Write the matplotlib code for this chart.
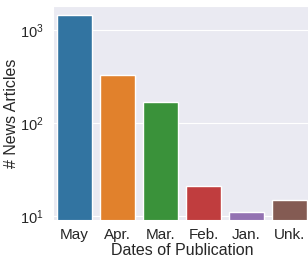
import matplotlib
matplotlib.use("Agg")
import matplotlib.pyplot as plt
import seaborn as sns

categories = ["May", "Apr.", "Mar.", "Feb.", "Jan.", "Unk."]
counts = [1450, 328, 169, 21, 11, 15]
colors = ["#3274A1", "#E1812C", "#3A923A", "#C03D3E", "#9372B2", "#845B53"]

sns.set_style("darkgrid")
plt.rcParams['font.family'] = ['Liberation Sans', 'DejaVu Sans']

fig = plt.figure(figsize=(3.08, 2.60), dpi=100)
ax = fig.add_axes([53/308, 40/260, 258/308, 214/260])
ax.bar(range(len(categories)), counts, width=0.8, color=colors,
       edgecolor="white", linewidth=1)
ax.set_yscale("log")
ax.set_ylim(9.06, 1815)
ax.set_xlim(-0.5, len(categories) - 0.5)
ax.set_xticks(range(len(categories)))
ax.set_xticklabels(categories, fontsize=11)
ax.xaxis.grid(False)
ax.tick_params(axis='y', labelsize=10.5, which='major', pad=3)
ax.tick_params(axis='x', pad=2)
ax.yaxis.set_minor_locator(matplotlib.ticker.NullLocator())
ax.set_xlabel("Dates of Publication", fontsize=11.5, labelpad=1)
ax.set_ylabel("# News Articles", fontsize=11.5)
ax.yaxis.set_label_coords(-0.132, 0.5)
fig.savefig("out.png", dpi=100)
